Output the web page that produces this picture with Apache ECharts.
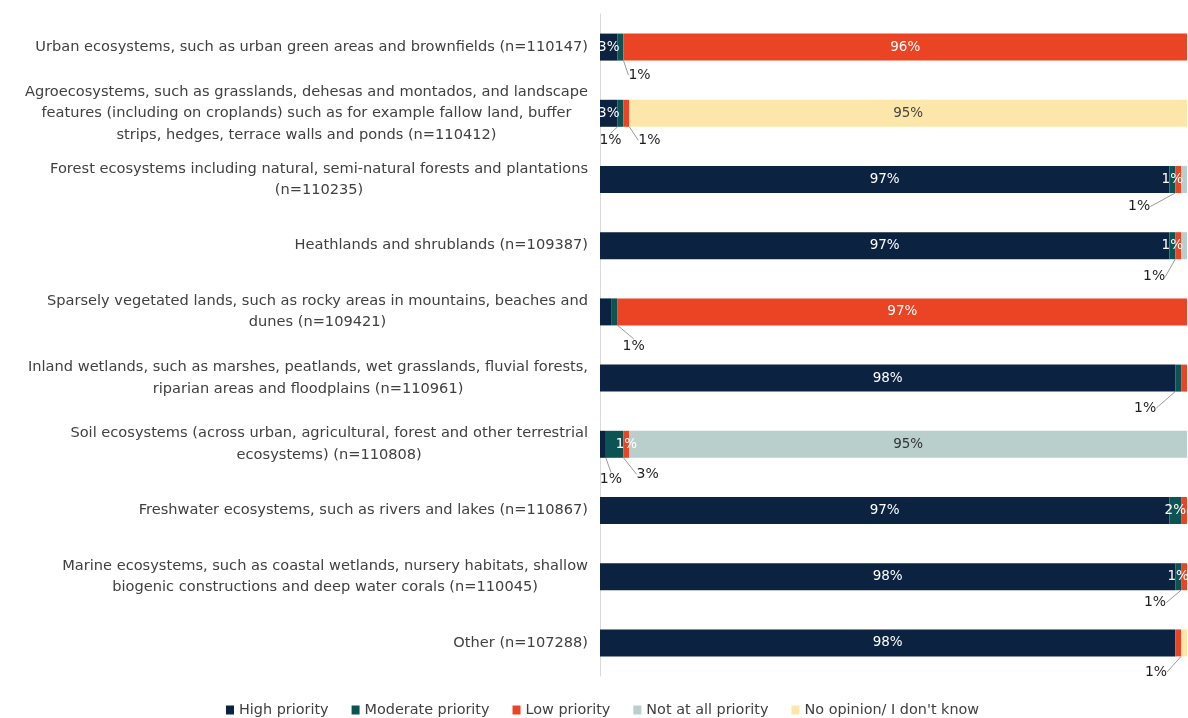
<!DOCTYPE html>
<html>
<head>
<meta charset="utf-8">
<script src="https://cdn.jsdelivr.net/npm/echarts@6/dist/echarts.min.js"></script>
<style>
  html, body { margin: 0; padding: 0; background: #ffffff; }
  #chart { width: 1188px; height: 718px; }
</style>
</head>
<body>
<div id="chart"></div>
<script>
// Ecosystem categories (top to bottom)
const categories = [
  'Urban ecosystems, such as urban green areas and brownfields (n=110147)',
  'Agroecosystems, such as grasslands, dehesas and montados, and landscape\nfeatures (including on croplands) such as for example fallow land, buffer\nstrips, hedges, terrace walls and ponds (n=110412)',
  'Forest ecosystems including natural, semi-natural forests and plantations\n(n=110235)',
  'Heathlands and shrublands (n=109387)',
  'Sparsely vegetated lands, such as rocky areas in mountains, beaches and\ndunes (n=109421)',
  'Inland wetlands, such as marshes, peatlands, wet grasslands, fluvial forests,\nriparian areas and floodplains (n=110961)',
  'Soil ecosystems (across urban, agricultural, forest and other terrestrial\necosystems) (n=110808)',
  'Freshwater ecosystems, such as rivers and lakes (n=110867)',
  'Marine ecosystems, such as coastal wetlands, nursery habitats, shallow\nbiogenic constructions and deep water corals (n=110045)',
  'Other (n=107288)'
];

// Share of answers (%) per category
const highPriority     = [3, 3, 97, 97, 2, 98, 1, 97, 98, 98];
const moderatePriority = [1, 1, 1, 1, 1, 1, 3, 2, 1, 0];
const lowPriority      = [96, 1, 1, 1, 97, 1, 1, 1, 1, 1];
const notAtAllPriority = [0, 0, 1, 1, 0, 0, 95, 0, 0, 0];
const noOpinion        = [0, 95, 0, 0, 0, 0, 0, 0, 0, 1];

const seriesNames = ['High priority', 'Moderate priority', 'Low priority', 'Not at all priority', "No opinion/ I don't know"];
const seriesValues = [highPriority, moderatePriority, lowPriority, notAtAllPriority, noOpinion];
const colors = ['#0b2240', '#0c5454', '#ea4425', '#b8cfcc', '#fde6a9'];
const insideTextColors = ['#ffffff', '#ffffff', '#ffffff', '#333333', '#444444'];

// Label placement per series and category: 'in' = inside the segment,
// [dx, dy] = moved below the bar with a leader line, null = no label
const labelPlacement = [
  ['in', 'in', 'in', 'in', null, 'in', [8, 35], 'in', 'in', 'in'],
  [[19, 28], [-10, 27], 'in', 'in', [19, 34], [-33, 30], [33, 30], 'in', 'in', null],
  ['in', [23, 27], [-39, 27], [-24, 31], 'in', null, 'in', null, [-29, 26], null],
  [null, null, null, null, null, null, 'in', null, null, null],
  [null, 'in', null, null, null, null, null, null, null, [-28, 29]]
];

const FONT = '"DejaVu Sans", Verdana, sans-serif';

const series = seriesValues.map((values, s) => ({
  name: seriesNames[s],
  type: 'bar',
  stack: 'total',
  barWidth: 27,
  itemStyle: { color: colors[s] },
  labelLayout: function (params) {
    const p = labelPlacement[params.seriesIndex][params.dataIndex];
    if (Array.isArray(p)) return { dx: p[0], dy: p[1] };
    return {};
  },
  data: values.map((v, i) => {
    const p = labelPlacement[s][i];
    const item = { value: v };
    if (p === 'in') {
      item.label = {
        show: true, position: 'inside', formatter: '{c}%',
        color: insideTextColors[s], fontSize: 13.5, fontFamily: FONT
      };
    } else if (Array.isArray(p)) {
      item.label = {
        show: true, position: 'inside', formatter: '{c}%',
        color: '#1f1f1f', fontSize: 14, fontFamily: FONT
      };
      item.labelLine = { show: true, lineStyle: { color: '#9a9a9a', width: 1 } };
    } else {
      item.label = { show: false };
    }
    return item;
  })
}));

const chart = echarts.init(document.getElementById('chart'), null, { renderer: 'canvas' });
chart.setOption({
  animation: false,
  backgroundColor: '#ffffff',
  grid: { left: 600, right: 1, top: 14, bottom: 42, containLabel: false },
  legend: {
    top: 698,
    left: 221,
    icon: 'rect',
    itemWidth: 8,
    itemHeight: 9,
    itemGap: 23,
    textStyle: { fontSize: 14.4, color: '#404040', fontFamily: FONT },
    data: seriesNames
  },
  xAxis: {
    type: 'value',
    min: 0,
    max: 100,
    show: false
  },
  yAxis: {
    type: 'category',
    inverse: true,
    data: categories,
    axisLine: { show: true, lineStyle: { color: '#d9d9d9', width: 1 } },
    axisTick: { show: false },
    axisLabel: {
      interval: 0,
      margin: 12,
      formatter: function (v) {
        return v.split('\n').map(l => '{c|' + l + '}').join('\n');
      },
      rich: {
        c: { align: 'center', fontSize: 14.6, lineHeight: 21.5, color: '#404040', fontFamily: FONT }
      }
    }
  },
  series: series
});
</script>
</body>
</html>
